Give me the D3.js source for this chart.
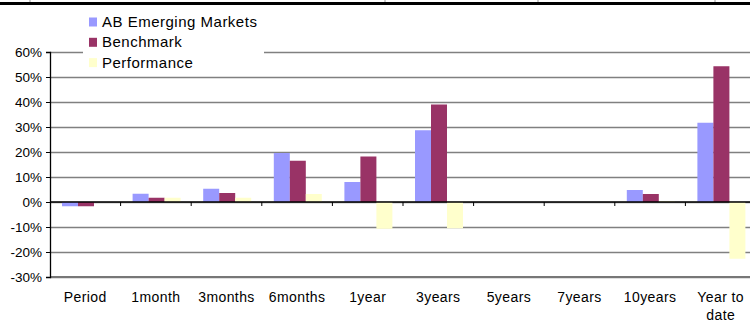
<!DOCTYPE html>
<html>
<head>
<meta charset="utf-8">
<script src="https://cdn.jsdelivr.net/npm/d3@7"></script>
<style>
  body { margin: 0; background: #fff; }
  #chart text { font-family: "Liberation Sans", Arial, sans-serif; fill: #000; }
</style>
</head>
<body>
<div id="chart"></div>
<script>
// Chart data
var categories = ["Period", "1month", "3months", "6months", "1year", "3years", "5years", "7years", "10years", "Year to date"];
var seriesNames = ["AB Emerging Markets", "Benchmark", "Performance"];
var abEmerging = [-1.7, 3.3, 5.3, 19.6, 8.0, 28.7, 0, 0, 4.8, 31.7];
var benchmark  = [-1.7, 1.7, 3.6, 16.5, 18.2, 39.0, 0, 0, 3.2, 54.3];
var performance = [0, 1.7, 1.7, 3.2, -10.7, -10.5, 0, 0, 0.4, -22.7];
var yTicks = [-30, -20, -10, 0, 10, 20, 30, 40, 50, 60];
var colors = ["#9999ff", "#993366", "#ffffcc"];

var W = 750, H = 323;

var svg = d3.select("#chart")
  .append("svg")
  .attr("width", W)
  .attr("height", H);

// Remnants of the table above the chart
svg.append("rect")
  .attr("x", 0).attr("y", 2)
  .attr("width", W).attr("height", 3)
  .attr("fill", "#000");
[30, 385, 538, 715].forEach(function(x) {
  svg.append("line")
    .attr("x1", x).attr("x2", x)
    .attr("y1", 0).attr("y2", 2)
    .style("stroke", "#999").style("stroke-width", 1);
});

var yScale = d3.scaleLinear()
  .domain([-30, 60])
  .range([277, 52]);

var xScale = d3.scaleBand()
  .domain(categories)
  .range([50, 756]);

var xInner = d3.scaleBand()
  .domain(seriesNames)
  .range([12, 60]);

// Gridlines
var grid = svg.append("g")
  .attr("class", "grid")
  .attr("transform", "translate(50,0)")
  .call(d3.axisLeft(yScale).tickValues(yTicks).tickSize(-(W - 50)).tickFormat(""));
grid.select(".domain").remove();
grid.selectAll(".tick line")
  .style("stroke", "#808080")
  .style("stroke-width", 1.3);

// Bars
var table = categories.map(function(c, i) {
  return {cat: c, values: [abEmerging[i], benchmark[i], performance[i]]};
});

var groups = svg.selectAll("g.cat")
  .data(table)
  .enter()
  .append("g")
  .attr("class", "cat")
  .attr("transform", function(d) { return "translate(" + xScale(d.cat) + ",0)"; });

groups.selectAll("rect")
  .data(function(d) {
    return d.values.map(function(v, j) { return {name: seriesNames[j], value: v, idx: j}; });
  })
  .enter()
  .append("rect")
  .attr("x", function(d) { return xInner(d.name); })
  .attr("width", xInner.bandwidth())
  .attr("y", function(d) { return yScale(Math.max(0, d.value)); })
  .attr("height", function(d) { return Math.abs(yScale(d.value) - yScale(0)); })
  .attr("fill", function(d) { return colors[d.idx]; });

// Zero line with category ticks
var xAxis = svg.append("g")
  .attr("transform", "translate(0," + yScale(0) + ")")
  .call(d3.axisBottom(xScale).tickSize(0).tickFormat(""));
xAxis.select(".domain").attr("d", "M50,0H" + W).style("stroke", "#000").style("stroke-width", 1.3);
categories.slice(1).forEach(function(c) {
  xAxis.append("line")
    .attr("x1", xScale(c)).attr("x2", xScale(c))
    .attr("y1", 0).attr("y2", 4)
    .style("stroke", "#000");
});

// Bottom border of the plot
svg.append("line")
  .attr("x1", 50).attr("x2", W)
  .attr("y1", yScale(-30)).attr("y2", yScale(-30))
  .style("stroke", "#777").style("stroke-width", 2);

// Y axis
var yAxis = svg.append("g")
  .attr("transform", "translate(50,0)")
  .call(d3.axisLeft(yScale).tickValues(yTicks).tickSize(4).tickPadding(4)
    .tickFormat(function(d) { return d + "%"; }));
yAxis.select(".domain").style("stroke", "#000").style("stroke-width", 1.3);
yAxis.selectAll(".tick line").style("stroke", "#000");
yAxis.selectAll(".tick text")
  .style("font-size", "13.5px")
  .attr("dy", "0.35em");

// Category labels
categories.forEach(function(c) {
  var cx = xScale(c) + xScale.bandwidth() / 2;
  var lines = c === "Year to date" ? ["Year to", "date"] : [c];
  lines.forEach(function(t, k) {
    svg.append("text")
      .attr("x", cx)
      .attr("y", 302 + k * 18)
      .attr("text-anchor", "middle")
      .style("font-size", "14px")
      .style("letter-spacing", "0.4px")
      .text(t);
  });
});

// Legend
svg.append("rect")
  .attr("x", 83).attr("y", 10)
  .attr("width", 181).attr("height", 64)
  .attr("fill", "#fff");

var legend = svg.selectAll("g.legend")
  .data(seriesNames)
  .enter()
  .append("g")
  .attr("class", "legend")
  .attr("transform", function(d, i) { return "translate(89," + (17.5 + i * 20.3) + ")"; });

legend.append("rect")
  .attr("width", 8).attr("height", 9)
  .attr("fill", function(d, i) { return colors[i]; });

legend.append("text")
  .attr("x", 13)
  .attr("y", 9.5)
  .style("font-size", "15px")
  .style("letter-spacing", "0.5px")
  .text(function(d) { return d; });
</script>
</body>
</html>
